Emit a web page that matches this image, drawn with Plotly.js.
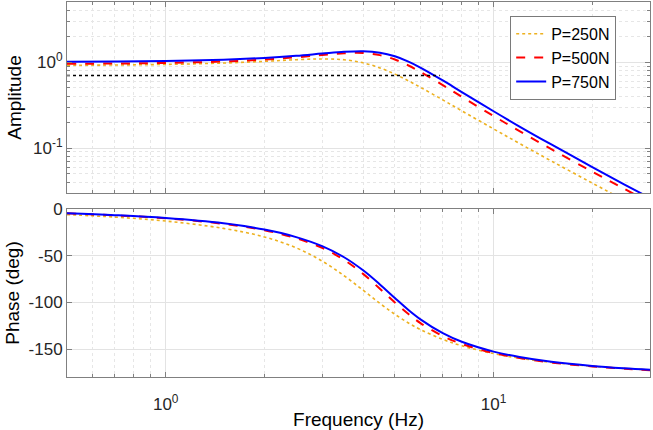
<!DOCTYPE html>
<html>
<head>
<meta charset="utf-8">
<script src="https://cdn.plot.ly/plotly-3.0.1.min.js"></script>
<style>
  html, body { margin: 0; padding: 0; background: #ffffff; }
  #chart { width: 653px; height: 430px; }
</style>
</head>
<body>
<div id="chart"></div>
<script>
// ---- data ----
const freq = [0.5, 0.7, 1, 1.5, 2, 2.5, 3, 3.5, 4, 4.5, 5, 5.5, 6, 7, 8, 10, 12, 15, 20, 25, 30];

const amp250 = [0.917, 0.925, 0.939, 0.975, 1.020, 1.065, 1.088, 1.064, 0.981, 0.856, 0.724, 0.605, 0.506, 0.363, 0.271, 0.167, 0.113, 0.0707, 0.0391, 0.0248, 0.0172];
const amp500 = [0.955, 0.962, 0.978, 1.016, 1.070, 1.137, 1.210, 1.267, 1.275, 1.205, 1.071, 0.913, 0.765, 0.539, 0.394, 0.236, 0.157, 0.0971, 0.0531, 0.0336, 0.0232];
const amp750 = [1.007, 1.014, 1.029, 1.066, 1.118, 1.183, 1.255, 1.316, 1.336, 1.287, 1.168, 1.013, 0.859, 0.612, 0.448, 0.268, 0.178, 0.110, 0.0601, 0.0379, 0.0262];

const phase250 = [-6.0, -8.7, -12.9, -20.8, -29.9, -41.6, -55.8, -71.5, -87.0, -101.1, -112.8, -122.1, -129.4, -139.7, -146.6, -154.9, -159.8, -164.3, -168.5, -170.9, -172.5];
const phase500 = [-4.6, -6.8, -10.0, -15.9, -22.8, -31.3, -41.7, -54.6, -69.5, -85.4, -100.2, -112.6, -122.5, -136.1, -144.6, -154.3, -159.7, -164.5, -168.7, -171.1, -172.7];
const phase750 = [-4.5, -6.6, -9.7, -15.3, -22.0, -30.1, -39.8, -51.7, -65.7, -80.8, -95.4, -108.2, -118.5, -133.1, -142.3, -152.8, -158.6, -163.7, -168.2, -170.7, -172.3];

const refFreq = [0.5, 6.85];
const refAmp = [0.7, 0.7];

const seriesNames = ['P=250N', 'P=500N', 'P=750N'];

const xTickVals = [1, 10];
const xTickText = ['10<sup>0</sup>', '10<sup>1</sup>'];
const xMinorVals = [0.5, 0.6, 0.7, 0.8, 0.9, 2, 3, 4, 5, 6, 7, 8, 9, 20, 30];
const yAmpTickVals = [0.1, 1];
const yAmpTickText = ['10<sup>-1</sup>', '10<sup>0</sup>'];
const yAmpMinorVals = [0.03, 0.04, 0.05, 0.06, 0.07, 0.08, 0.09, 0.2, 0.3, 0.4, 0.5, 0.6, 0.7, 0.8, 0.9, 2, 3, 4, 5];
const yPhaseTickVals = [-150, -100, -50, 0];
const yPhaseTickText = ['-150', '-100', '-50', '0'];

// ---- styling ----
const cOrange = '#EDB120';
const cRed = '#FF0000';
const cBlue = '#0000FF';
const axisCol = '#808080';
const gridCol = '#e3e3e3';
const minorGridCol = '#e6e6e6';
const FONT = 'Liberation Sans, Arial, Helvetica, sans-serif';

const traces = [
  { x: freq, y: amp250, xaxis: 'x', yaxis: 'y', name: seriesNames[0], mode: 'lines',
    line: { color: cOrange, width: 1.6, dash: 'dot', shape: 'spline', smoothing: 1 } },
  { x: freq, y: amp500, xaxis: 'x', yaxis: 'y', name: seriesNames[1], mode: 'lines',
    line: { color: cRed, width: 2, dash: 'dash', shape: 'spline', smoothing: 1 } },
  { x: freq, y: amp750, xaxis: 'x', yaxis: 'y', name: seriesNames[2], mode: 'lines',
    line: { color: cBlue, width: 2, shape: 'spline', smoothing: 1 } },
  { x: refFreq, y: refAmp, xaxis: 'x', yaxis: 'y', mode: 'lines', showlegend: false, hoverinfo: 'skip',
    line: { color: '#000000', width: 1.5, dash: 'dot' } },
  { x: freq, y: phase250, xaxis: 'x2', yaxis: 'y2', name: seriesNames[0], mode: 'lines', showlegend: false,
    line: { color: cOrange, width: 1.6, dash: 'dot', shape: 'spline', smoothing: 1 } },
  { x: freq, y: phase500, xaxis: 'x2', yaxis: 'y2', name: seriesNames[1], mode: 'lines', showlegend: false,
    line: { color: cRed, width: 2, dash: 'dash', shape: 'spline', smoothing: 1 } },
  { x: freq, y: phase750, xaxis: 'x2', yaxis: 'y2', name: seriesNames[2], mode: 'lines', showlegend: false,
    line: { color: cBlue, width: 2, shape: 'spline', smoothing: 1 } }
];

function baseAxis(extra) {
  return Object.assign({
    showline: true, linecolor: axisCol, linewidth: 1, mirror: 'ticks',
    ticks: 'inside', ticklen: 5, tickcolor: axisCol, tickwidth: 1,
    showgrid: true, gridcolor: gridCol, gridwidth: 1,
    zeroline: false,
    tickfont: { family: FONT, size: 17, color: '#262626' },
    automargin: false
  }, extra);
}

const xRange = [Math.log10(0.5), Math.log10(30)];

const layout = {
  width: 653, height: 430,
  margin: { l: 67, r: 3, t: 2, b: 53 },
  paper_bgcolor: '#ffffff', plot_bgcolor: '#ffffff',
  font: { family: FONT, color: '#262626' },
  showlegend: true,
  legend: {
    x: 0.942, xanchor: 'right', y: 0.963, yanchor: 'top',
    bgcolor: '#ffffff', bordercolor: '#7a7a7a', borderwidth: 1,
    font: { family: FONT, size: 16, color: '#000000' },
    tracegroupgap: 0
  },
  xaxis: baseAxis({
    type: 'log', range: xRange, anchor: 'y', domain: [0, 1],
    tickvals: xTickVals, ticktext: xTickText, showticklabels: false,
    minor: { tickvals: xMinorVals, ticks: 'inside', ticklen: 3, tickcolor: axisCol,
             showgrid: true, gridcolor: minorGridCol, griddash: 'dot', gridwidth: 1 }
  }),
  yaxis: baseAxis({
    type: 'log', range: [Math.log10(0.03), Math.log10(5)], anchor: 'x', domain: [0.4907, 1],
    tickvals: yAmpTickVals, ticktext: yAmpTickText,
    minor: { tickvals: yAmpMinorVals, ticks: 'inside', ticklen: 3, tickcolor: axisCol,
             showgrid: true, gridcolor: minorGridCol, griddash: 'dot', gridwidth: 1 },
    title: { text: 'Amplitude', font: { family: FONT, size: 19, color: '#000000' }, standoff: 6 }
  }),
  xaxis2: baseAxis({
    type: 'log', range: xRange, anchor: 'y2', domain: [0, 1],
    tickvals: xTickVals, ticktext: xTickText, ticklabelstandoff: 12,
    minor: { tickvals: xMinorVals, ticks: 'inside', ticklen: 3, tickcolor: axisCol,
             showgrid: true, gridcolor: minorGridCol, griddash: 'dot', gridwidth: 1 },
    title: { text: 'Frequency (Hz)', font: { family: FONT, size: 19, color: '#000000' }, standoff: 0 }
  }),
  yaxis2: baseAxis({
    range: [-180, 0], anchor: 'x2', domain: [0, 0.448],
    tickvals: yPhaseTickVals, ticktext: yPhaseTickText,
    title: { text: 'Phase (deg)', font: { family: FONT, size: 19, color: '#000000' }, standoff: 3 }
  })
};

Plotly.newPlot('chart', traces, layout, { displayModeBar: false, staticPlot: true });
</script>
</body>
</html>
